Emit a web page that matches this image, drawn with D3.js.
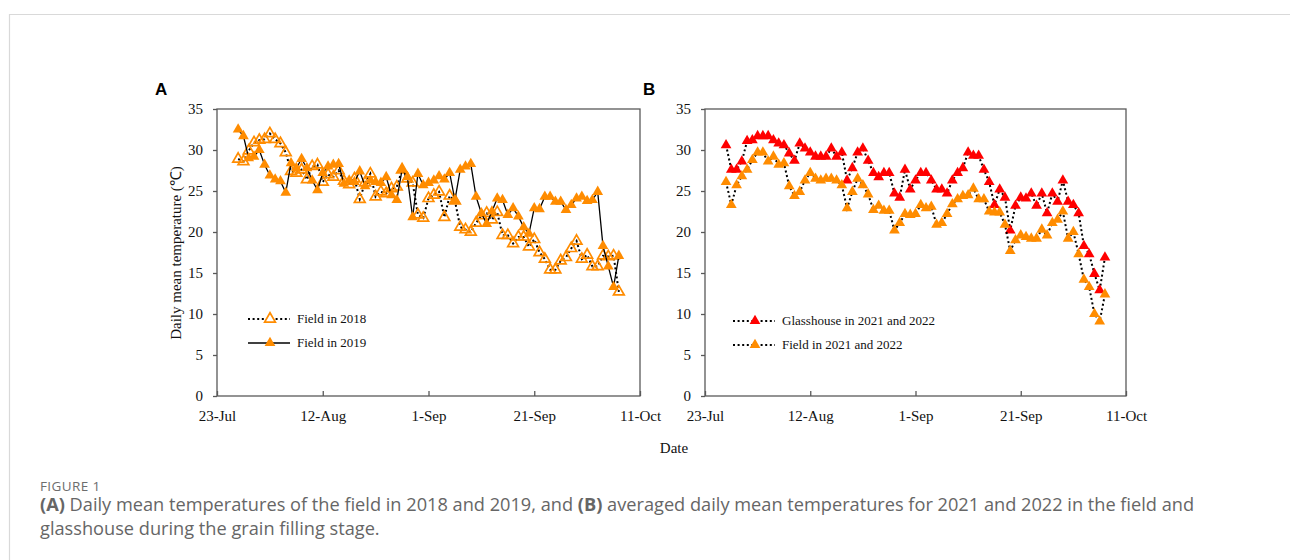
<!DOCTYPE html>
<html>
<head>
<meta charset="utf-8">
<script src="https://cdn.jsdelivr.net/npm/d3@7"></script>
<style>
  body { margin: 0; background: #fff; }
  svg text { font-family: "Liberation Serif", "Times New Roman", serif; }
  svg text.sans { font-family: "Open Sans", sans-serif; }
  svg text.bold-sans { font-family: "Liberation Sans", Arial, sans-serif; font-weight: bold; }
</style>
</head>
<body>
<div id="chart"></div>
<script>
// tick labels (both panels share the same x axis)
var xTickLabels = ["23-Jul", "12-Aug", "1-Sep", "21-Sep", "11-Oct"];
var yTicks = [0, 5, 10, 15, 20, 25, 30, 35];

// daily means, first value is 27-Jul, one value per day
var firstDay = "27-Jul";

var field2018 = [28.9, 28.6, 29.9, 30.9, 31.2, 31.3, 32.0, 31.3, 30.8, 29.7,
  27.4, 27.2, 27.6, 26.4, 28.0, 28.2, 26.1, 27.0, 26.7, 27.5,
  26.2, 25.8, 26.5, 24.0, 26.0, 27.1, 24.3, 24.9, 24.7, 25.3,
  25.5, 27.6, 26.5, 26.0, 22.1, 21.7, 24.1, 24.5, 24.9, 21.8,
  24.4, 23.8, 20.6, 20.3, 20.0, 21.1, 22.0, 22.3, 21.5, 22.4,
  19.6, 19.6, 18.6, 19.4, 19.4, 18.2, 19.1, 17.5, 16.7, 15.4,
  15.4, 16.5, 16.9, 18.0, 18.9, 16.7, 17.2, 15.8, 15.8, 17.1,
  17.0, 17.1, 12.7];

var field2019 = [32.5, 31.7, 29.0, 29.2, 30.0, 28.2, 26.9, 26.4, 26.2, 24.8,
  28.4, 27.8, 28.9, 27.8, 26.3, 25.1, 27.2, 28.0, 28.2, 28.3,
  25.9, 26.3, 26.1, 27.4, 25.6, 26.3, 26.1, 26.0, 26.7, 24.5,
  23.9, 27.6, 26.7, 21.8, 27.1, 25.7, 26.0, 26.3, 26.8, 26.4,
  27.2, 23.9, 27.6, 28.0, 28.3, 24.3, 22.3, 21.0, 22.5, 24.1,
  23.9, 22.1, 22.9, 21.9, 20.6, 19.8, 22.9, 22.8, 24.3, 24.3,
  23.7, 23.7, 22.7, 23.3, 24.1, 24.3, 23.8, 23.9, 24.9, 18.3,
  15.8, 13.3, 17.1];

var glasshouse2122 = [30.6, 27.6, 27.6, 28.6, 31.1, 31.2, 31.7, 31.7, 31.7, 31.2,
  30.8, 30.6, 29.6, 28.7, 30.8, 30.2, 29.7, 29.2, 29.2, 29.2,
  30.2, 29.2, 29.7, 26.3, 27.8, 29.7, 30.2, 28.7, 27.2, 26.7,
  27.2, 27.2, 24.7, 24.2, 27.6, 25.2, 26.3, 27.2, 27.2, 26.3,
  25.2, 25.2, 24.7, 26.3, 27.2, 27.8, 29.7, 29.3, 29.3, 27.6,
  26.1, 23.3, 25.2, 24.2, 20.2, 23.2, 24.2, 24.1, 24.7, 23.2,
  24.7, 22.3, 24.7, 23.7, 26.3, 23.7, 23.3, 22.3, 18.3, 17.3,
  14.9, 12.9, 16.9];

var field2122 = [26.1, 23.3, 25.7, 26.8, 27.6, 28.8, 29.7, 29.7, 28.6, 29.2,
  28.2, 28.4, 25.6, 24.4, 24.9, 26.3, 27.2, 26.5, 26.3, 26.5,
  26.5, 26.3, 25.7, 22.9, 24.9, 26.5, 25.7, 24.6, 22.7, 23.2,
  22.6, 22.6, 20.2, 21.1, 22.2, 22.1, 22.2, 23.3, 22.9, 23.1,
  20.9, 21.1, 22.2, 23.4, 24.0, 24.4, 24.5, 25.3, 24.0, 24.0,
  22.5, 22.4, 22.4, 20.9, 17.7, 19.0, 19.6, 19.4, 19.2, 19.2,
  20.3, 19.6, 21.1, 21.5, 22.5, 19.2, 20.0, 17.3, 14.2, 13.3,
  10.0, 9.1, 12.4];

var ORANGE = "#ff8c00", RED = "#ff0000";

var parseDay = d3.timeParse("%d-%b-%Y");
var fmtDay = d3.timeFormat("%-d-%b");
function toDate(s) { return parseDay(s + "-2019"); }
var tickDates = xTickLabels.map(toDate);
var start = toDate(firstDay);

function asPoints(values) {
  return values.map(function (v, i) { return { date: d3.timeDay.offset(start, i), value: v }; });
}

var W = 1290, H = 560;
var svg = d3.select("#chart").append("svg")
  .attr("width", W).attr("height", H);

// the light frame round the figure
svg.append("path")
  .attr("d", "M9.5," + H + " V14.5 H" + W)
  .attr("fill", "none").attr("stroke", "#d9d9d9").attr("stroke-width", 1.2);

var tri = d3.symbol().type(d3.symbolTriangle).size(50);

function drawPanel(opt) {
  var x = d3.scaleTime().domain([tickDates[0], tickDates[tickDates.length - 1]]).range([opt.left, opt.right]);
  var y = d3.scaleLinear().domain([0, 35]).range([opt.bottom, opt.top]);
  var g = svg.append("g");

  // box
  g.append("rect")
    .attr("x", opt.left).attr("y", opt.top)
    .attr("width", opt.right - opt.left).attr("height", opt.bottom - opt.top)
    .attr("fill", "none").attr("stroke", "#595959").attr("stroke-width", 1.3);

  var yAxis = g.append("g").attr("transform", "translate(" + opt.left + ",0)")
    .call(d3.axisLeft(y).tickValues(yTicks).tickSize(4).tickPadding(10));
  var xAxis = g.append("g").attr("transform", "translate(0," + opt.bottom + ")")
    .call(d3.axisBottom(x).tickValues(tickDates).tickFormat(fmtDay).tickSize(-5).tickPadding(14));
  [yAxis, xAxis].forEach(function (a) {
    a.select(".domain").remove();
    a.selectAll("line").attr("stroke", "#595959").attr("stroke-width", 1.3);
    a.selectAll("text").attr("font-size", 15).attr("fill", "#111");
  });

  var line = d3.line().x(function (d) { return x(d.date); }).y(function (d) { return y(d.value); });

  opt.series.forEach(function (s) {
    var pts = asPoints(s.values);
    g.append("path").datum(pts)
      .attr("d", line)
      .attr("fill", "none").attr("stroke", "#000")
      .attr("stroke-width", s.dotted ? 2 : 1.3)
      .attr("stroke-dasharray", s.dotted ? "2,2.6" : null);
    g.selectAll(null).data(pts).enter().append("path")
      .attr("d", tri)
      .attr("transform", function (d) { return "translate(" + x(d.date) + "," + y(d.value) + ")"; })
      .attr("fill", s.open ? "none" : s.color)
      .attr("stroke", s.color).attr("stroke-width", s.open ? 1.7 : 0);
  });

  // legend
  opt.series.forEach(function (s, i) {
    var ly = opt.legendY + i * 24;
    g.append("line")
      .attr("x1", opt.legendX).attr("x2", opt.legendX + opt.legendLen)
      .attr("y1", ly).attr("y2", ly)
      .attr("stroke", "#000").attr("stroke-width", s.dotted ? 2 : 1.3)
      .attr("stroke-dasharray", s.dotted ? "2,2.6" : null);
    g.append("path")
      .attr("d", tri)
      .attr("transform", "translate(" + (opt.legendX + opt.legendLen / 2 + 1) + "," + ly + ")")
      .attr("fill", s.open ? "#fff" : s.color)
      .attr("stroke", s.color).attr("stroke-width", s.open ? 1.7 : 0);
    g.append("text")
      .attr("x", opt.legendX + opt.legendLen + 7).attr("y", ly + 4)
      .attr("font-size", 13).attr("fill", "#111")
      .text(s.name);
  });

  g.append("text").attr("class", "bold-sans")
    .attr("x", opt.left - 62).attr("y", opt.top - 14)
    .attr("font-size", 17)
    .text(opt.label);
}

drawPanel({
  label: "A", left: 217, right: 640, top: 109, bottom: 396,
  legendX: 248, legendY: 319, legendLen: 42,
  series: [
    { name: "Field in 2018", values: field2018, color: ORANGE, open: true, dotted: true },
    { name: "Field in 2019", values: field2019, color: ORANGE, open: false, dotted: false }
  ]
});

drawPanel({
  label: "B", left: 705, right: 1126, top: 109, bottom: 396,
  legendX: 733, legendY: 321, legendLen: 42,
  series: [
    { name: "Glasshouse in 2021 and 2022", values: glasshouse2122, color: RED, open: false, dotted: true },
    { name: "Field in 2021 and 2022", values: field2122, color: ORANGE, open: false, dotted: true }
  ]
});

// axis titles
svg.append("text")
  .attr("transform", "translate(181,253) rotate(-90)")
  .attr("text-anchor", "middle").attr("font-size", 15).attr("fill", "#111")
  .text("Daily mean temperature (℃)");
svg.append("text")
  .attr("x", 674).attr("y", 453).attr("text-anchor", "middle")
  .attr("font-size", 15).attr("fill", "#111")
  .text("Date");

// caption
svg.append("text").attr("class", "sans")
  .attr("x", 40).attr("y", 491)
  .attr("font-size", 13.5).attr("letter-spacing", 0.4).attr("fill", "#6d6d6d")
  .text("FIGURE 1");
var l1 = svg.append("text").attr("class", "sans")
  .attr("x", 40).attr("y", 511)
  .attr("font-size", 18.2).attr("fill", "#666");
l1.append("tspan").attr("font-weight", "bold").text("(A)");
l1.append("tspan").text(" Daily mean temperatures of the field in 2018 and 2019, and ");
l1.append("tspan").attr("font-weight", "bold").text("(B)");
l1.append("tspan").text(" averaged daily mean temperatures for 2021 and 2022 in the field and");
svg.append("text").attr("class", "sans")
  .attr("x", 40).attr("y", 535)
  .attr("font-size", 18.2).attr("fill", "#666")
  .text("glasshouse during the grain filling stage.");
</script>
</body>
</html>
